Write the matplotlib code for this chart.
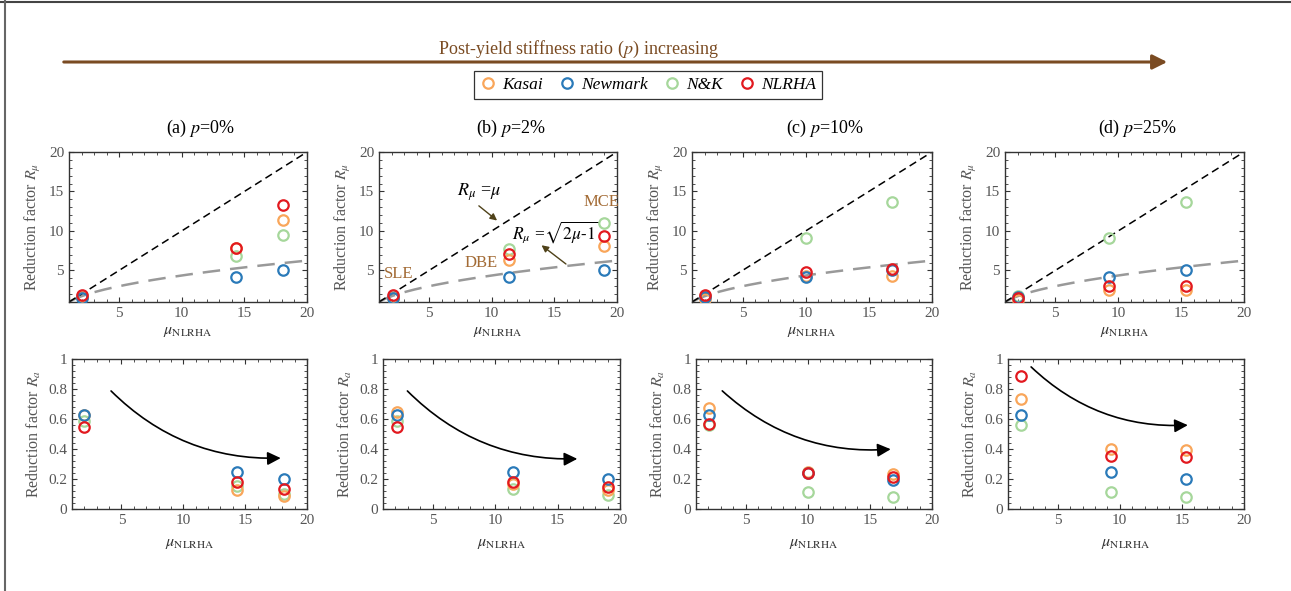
import numpy as np
import matplotlib.pyplot as plt
from matplotlib.ticker import AutoMinorLocator, MultipleLocator
from matplotlib.lines import Line2D
from matplotlib.patches import FancyArrowPatch

plt.rcParams['font.family'] = ['Liberation Serif', 'DejaVu Serif']
plt.rcParams['mathtext.fontset'] = 'stix'

# ductility demand from NLRHA, one list per panel (p = 0%, 2%, 10%, 25%)
mu_nlrha = [
    [2.0, 14.3, 18.1],
    [2.1, 11.4, 19.0],
    [2.05, 10.05, 16.85],
    [2.05, 9.3, 15.35],
]

# ductility reduction factor R_mu
rmu_kasai = [[1.6, 7.8, 11.4], [1.5, 6.35, 8.15], [1.4, 4.3, 4.35], [1.3, 2.5, 2.5]]
rmu_newmark = [[1.55, 4.2, 5.1], [1.5, 4.2, 5.1], [1.6, 4.15, 5.0], [1.6, 4.2, 5.1]]
rmu_nk = [[1.7, 6.8, 9.5], [1.6, 7.75, 11.0], [1.7, 9.1, 13.65], [1.8, 9.1, 13.65]]
rmu_nlrha = [[1.95, 7.85, 13.35], [1.9, 7.05, 9.3], [1.85, 4.75, 5.2], [1.55, 3.0, 3.05]]

# acceleration reduction factor R_a
ra_kasai = [[0.63, 0.13, 0.085], [0.645, 0.165, 0.125], [0.675, 0.25, 0.235], [0.735, 0.40, 0.395]]
ra_newmark = [[0.63, 0.245, 0.2], [0.63, 0.245, 0.2], [0.627, 0.24, 0.196], [0.628, 0.245, 0.2]]
ra_nk = [[0.59, 0.155, 0.1], [0.59, 0.133, 0.093], [0.56, 0.113, 0.078], [0.562, 0.113, 0.078]]
ra_nlrha = [[0.545, 0.178, 0.133], [0.55, 0.178, 0.148], [0.567, 0.24, 0.211], [0.889, 0.353, 0.347]]

p_labels = ['0%', '2%', '10%', '25%']
panel_tags = ['(a)', '(b)', '(c)', '(d)']

# trend arrows on the R_a panels: (start, end)
trend_arrows = [
    ((4.0, 0.80), (18.1, 0.34)),
    ((2.8, 0.80), (16.8, 0.335)),
    ((2.95, 0.80), (16.9, 0.40)),
    ((2.7, 0.96), (15.7, 0.56)),
]

c_kasai = '#f9a65a'
c_newmark = '#2a7ab9'
c_nk = '#a6d79b'
c_nlrha = '#e2191f'
brown = '#7a4b22'
tick_grey = '#555555'

W, H = 1291, 591
fig = plt.figure(figsize=(W / 100, H / 100), dpi=100)

top_left = [69, 379, 692, 1005]
top_right = [307, 617, 932, 1244]
bot_left = [72, 383, 696, 1008]
bot_right = [307, 620, 932, 1244]


def px_axes(x0, x1, y0, y1):
    return fig.add_axes([x0 / W, 1 - y1 / H, (x1 - x0) / W, (y1 - y0) / H])


def style_axes(ax):
    ax.tick_params(which='both', direction='in', top=True, right=True,
                   colors='#333333', labelcolor=tick_grey, labelsize=11)
    ax.tick_params(which='major', length=3.5, width=0.8)
    ax.tick_params(which='minor', length=2, width=0.6)
    ax.xaxis.set_minor_locator(AutoMinorLocator(5))
    ax.yaxis.set_minor_locator(AutoMinorLocator(5))
    for s in ax.spines.values():
        s.set_color('#333333')
        s.set_linewidth(1.0)


def scatter_methods(ax, x, k, kasai, newmark, nk, nlrha):
    kw = dict(ls='none', marker='o', mfc='none', ms=7.5, mew=1.6, zorder=4)
    ax.plot(x, nk[k], mec=c_nk, **kw)
    ax.plot(x, kasai[k], mec=c_kasai, **kw)
    ax.plot(x, newmark[k], mec=c_newmark, **kw)
    ax.plot(x, nlrha[k], mec=c_nlrha, **kw)


mu_line = np.linspace(1, 20, 200)

for k in range(4):
    x = mu_nlrha[k]

    # R_mu panels
    ax = px_axes(top_left[k], top_right[k], 152, 302)
    ax.plot(mu_line, mu_line, ls=(0, (5, 3)), color='black', lw=1.1, zorder=2)
    ax.plot(mu_line, np.sqrt(2 * mu_line - 1), ls=(0, (7, 4)), color='#999999',
            lw=1.8, zorder=1)
    scatter_methods(ax, x, k, rmu_kasai, rmu_newmark, rmu_nk, rmu_nlrha)
    ax.set_xlim(1, 20)
    ax.set_ylim(1, 20)
    ax.xaxis.set_major_locator(MultipleLocator(5))
    ax.yaxis.set_major_locator(MultipleLocator(5))
    style_axes(ax)
    ax.set_ylabel(r'Reduction factor $R_{\mu}$', color=tick_grey, fontsize=11.5)
    ax.set_xlabel(r'$\mu_{\mathrm{NLRHA}}$', color='#333333', fontsize=11.5, labelpad=2)

    if k == 1:
        ax.annotate('', xy=(10.6, 11.1), xytext=(8.8, 13.4),
                    arrowprops=dict(arrowstyle='-|>', color='#4f4219', lw=1.0,
                                    mutation_scale=10))
        ax.text(7.2, 14.9, r'$R_{\mu}$ =$\mu$', fontsize=13, va='center')
        ax.annotate('', xy=(13.8, 8.4), xytext=(16.1, 5.6),
                    arrowprops=dict(arrowstyle='-|>', color='#4f4219', lw=1.0,
                                    mutation_scale=10))
        ax.text(11.6, 9.8, r'$R_{\mu}$ =$\sqrt{2\mu\text{-}1}$', fontsize=12.5,
                va='center')
        lvl = dict(color='#a36b35', fontsize=12, va='center')
        ax.text(1.4, 4.5, 'SLE', **lvl)
        ax.text(7.8, 5.9, 'DBE', **lvl)
        ax.text(17.3, 13.7, 'MCE', **lvl)

    # R_a panels
    ax = px_axes(bot_left[k], bot_right[k], 359, 509)
    scatter_methods(ax, x, k, ra_kasai, ra_newmark, ra_nk, ra_nlrha)
    (xs, ys), (xe, ye) = trend_arrows[k]
    ax.annotate('', xy=(xe, ye), xytext=(xs, ys),
                arrowprops=dict(arrowstyle='-|>', color='black', lw=1.2,
                                mutation_scale=20,
                                connectionstyle='arc3,rad=0.22'))
    ax.set_xlim(1, 20)
    ax.set_ylim(0, 1)
    ax.xaxis.set_major_locator(MultipleLocator(5))
    ax.yaxis.set_major_locator(MultipleLocator(0.2))
    style_axes(ax)
    ax.yaxis.set_major_formatter(plt.FuncFormatter(lambda v, _: f'{v:g}'))
    ax.set_ylabel(r'Reduction factor $R_{a}$', color=tick_grey, fontsize=11.5)
    ax.set_xlabel(r'$\mu_{\mathrm{NLRHA}}$', color='#333333', fontsize=11.5, labelpad=6)

    # panel title
    cx = (top_left[k] + top_right[k]) / 2 + 13
    fig.text(cx / W, 1 - 128 / H, panel_tags[k] + r' $p$=' + p_labels[k],
             ha='center', va='center', fontsize=13)

# stiffness ratio arrow across the top
fig.patches.append(FancyArrowPatch(
    (61 / W, 1 - 62 / H), (1170 / W, 1 - 62 / H), transform=fig.transFigure,
    arrowstyle='-|>', mutation_scale=22, color=brown, lw=2.2))
fig.text(578 / W, 1 - 49 / H, r'Post-yield stiffness ratio ($p$) increasing',
         ha='center', va='center', fontsize=13, color=brown)

handles = [Line2D([], [], ls='none', marker='o', mfc='none', ms=7.5, mew=1.6, mec=c)
           for c in (c_kasai, c_newmark, c_nk, c_nlrha)]
leg = fig.legend(handles, ['Kasai', 'Newmark', 'N&K', 'NLRHA'], ncol=4,
                 loc='center', bbox_to_anchor=(648 / W, 1 - 85 / H),
                 prop=dict(style='italic', size=12.5), frameon=True, fancybox=False,
                 edgecolor='black', handletextpad=0.3, columnspacing=0.9,
                 handlelength=1.0, borderpad=0.35)
leg.get_frame().set_linewidth(0.9)

# outer frame lines (top and left)
fig.add_artist(Line2D([0, 1], [1 - 1.5 / H, 1 - 1.5 / H], transform=fig.transFigure,
                      color='#444444', lw=1.5))
fig.add_artist(Line2D([5 / W, 5 / W], [0, 1], transform=fig.transFigure,
                      color='#666666', lw=1.5))

fig.savefig('out.png', dpi=100)
